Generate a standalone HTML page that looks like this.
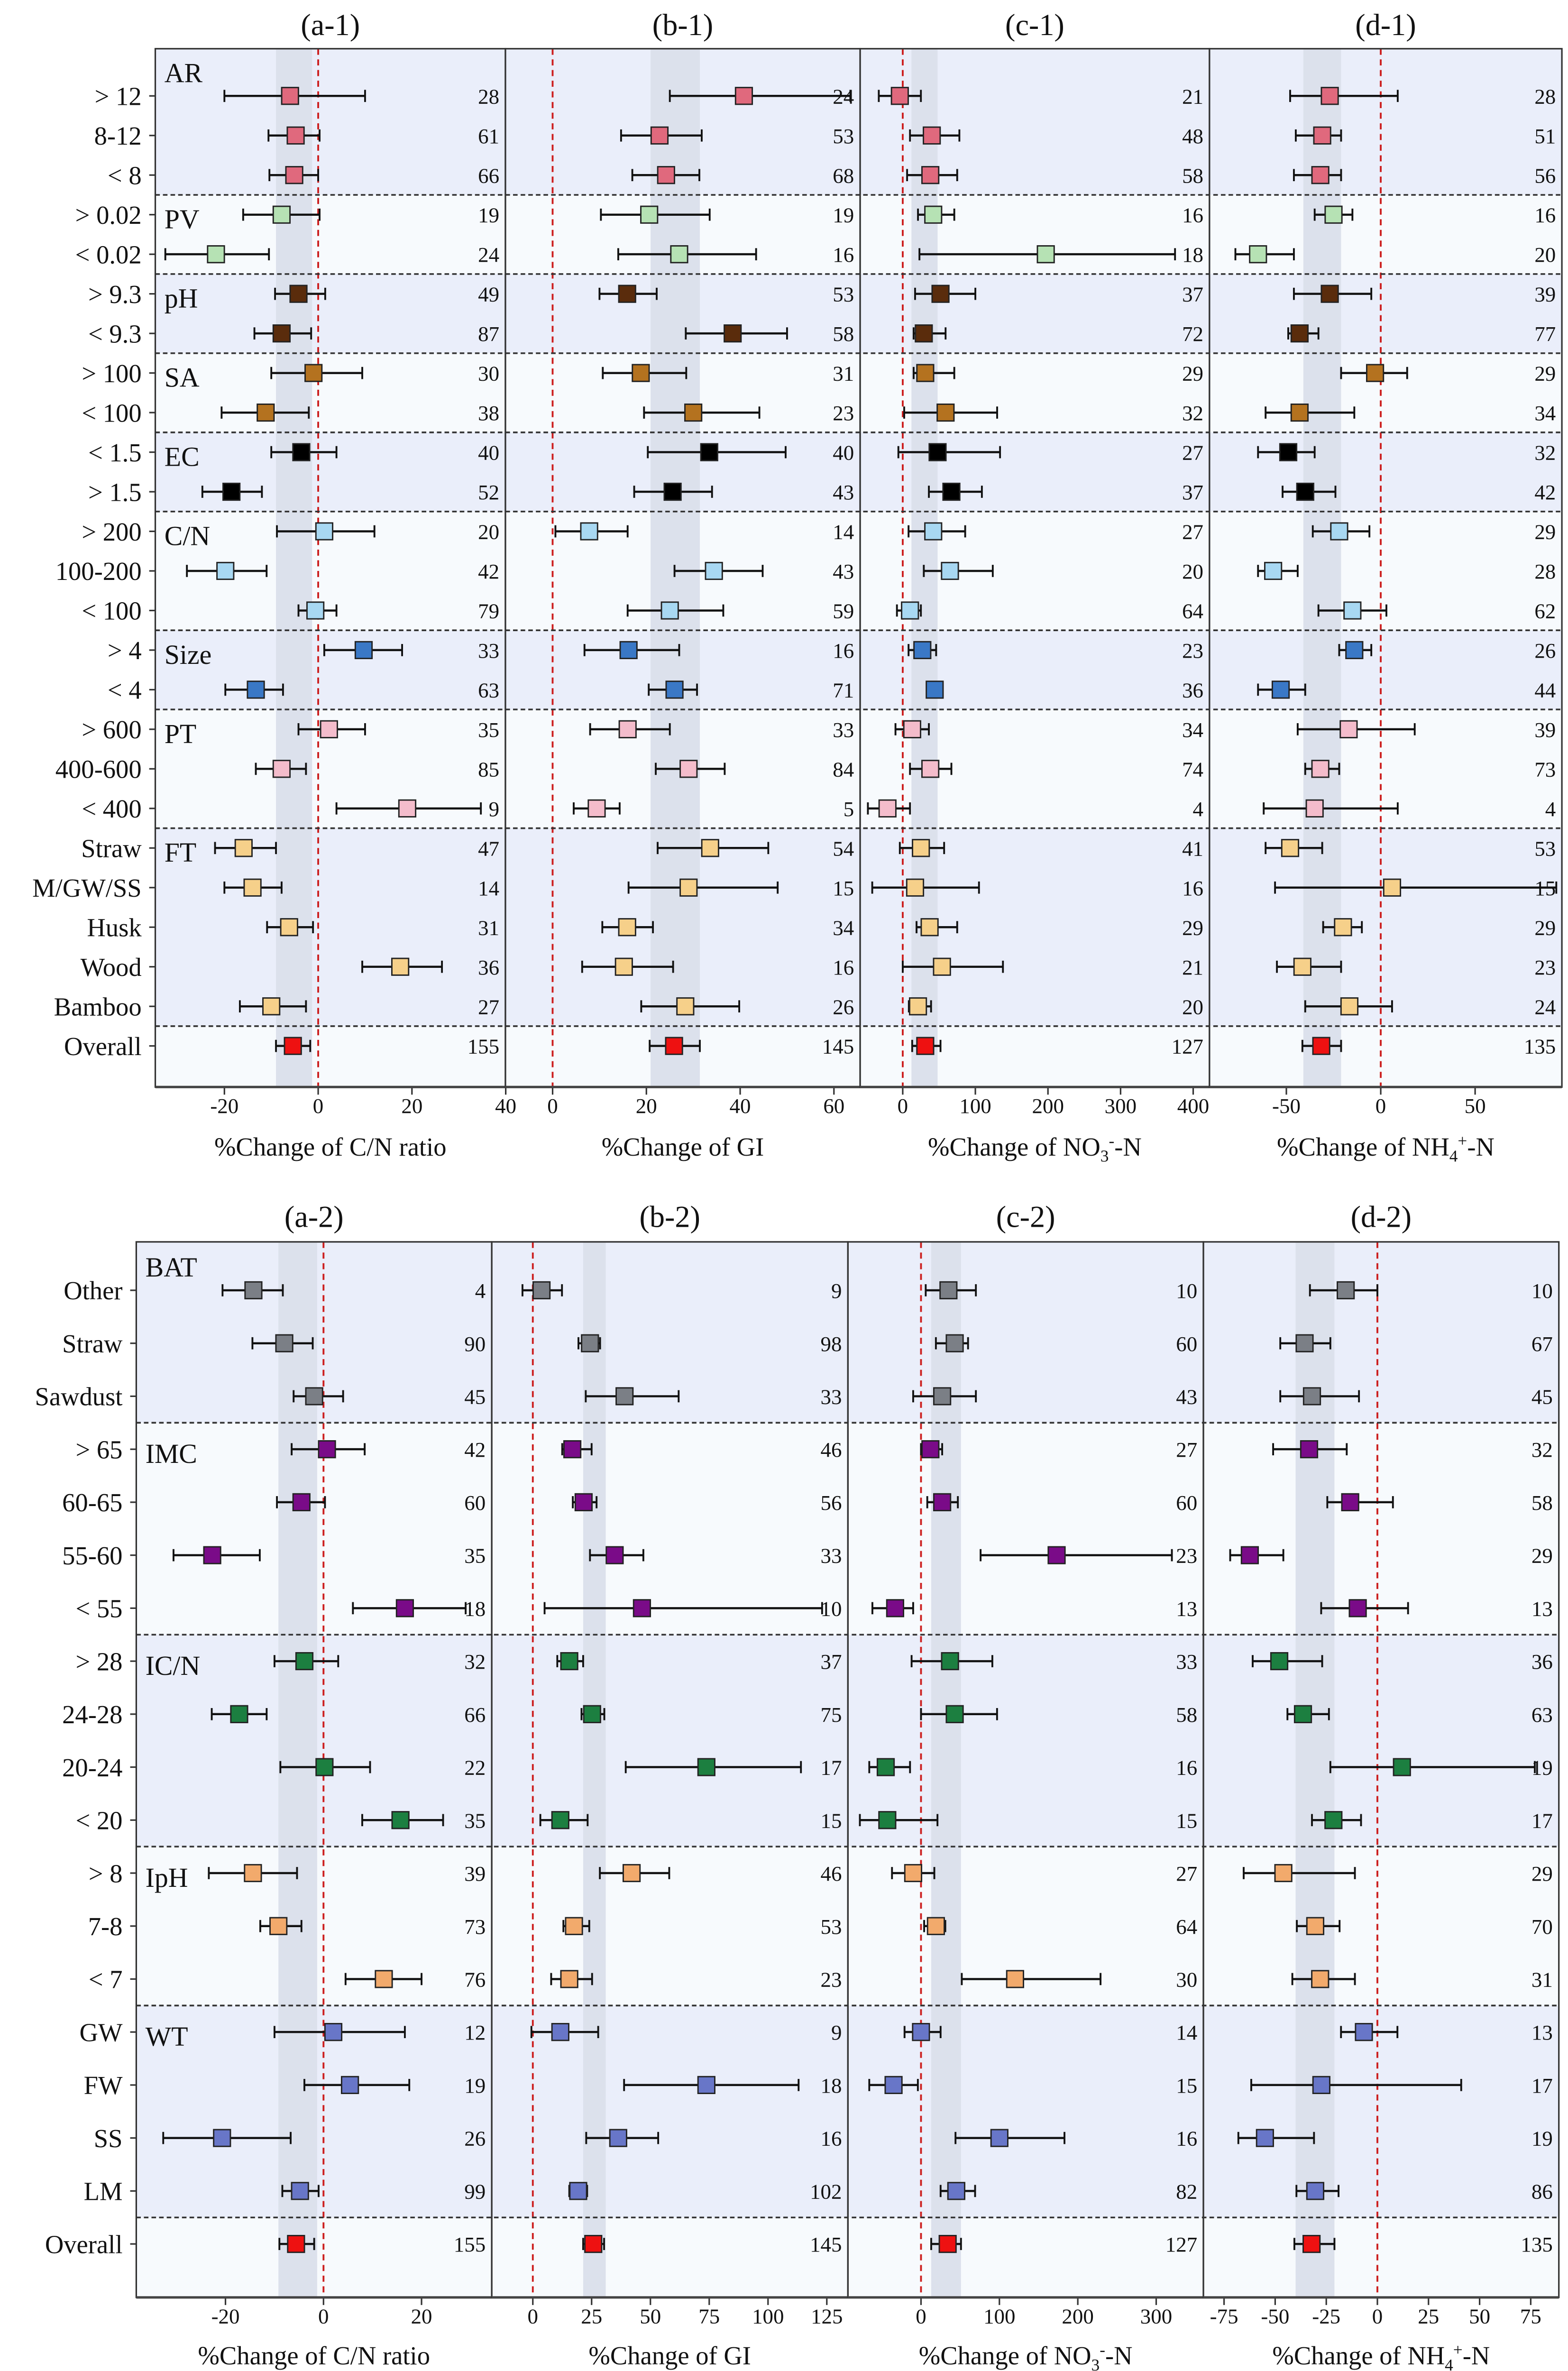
<!DOCTYPE html>
<html><head><meta charset="utf-8"><style>
html,body{margin:0;padding:0;background:#fff;overflow:hidden;width:3307px;height:5031px}
svg{display:block}
text{font-family:"Liberation Serif","Times New Roman",serif;fill:#111}
</style></head><body>
<svg id="chart" xmlns="http://www.w3.org/2000/svg" width="3307" height="5031" viewBox="0 0 1030 1567" overflow="hidden"></svg>
<script>
// ---------- TOP FIGURE DATA ----------
const topRows = ["> 12","8-12","< 8","> 0.02","< 0.02","> 9.3","< 9.3","> 100","< 100","< 1.5","> 1.5","> 200","100-200","< 100","> 4","< 4","> 600","400-600","< 400","Straw","M/GW/SS","Husk","Wood","Bamboo","Overall"];
const topGroupNames = ["AR","PV","pH","SA","EC","C/N","Size","PT","FT","Overall"];
const topGroupSizes = [3,2,2,2,2,3,2,3,5,1];
const a1Mean = [-6,-4.8,-5.1,-7.8,-21.8,-4.2,-7.8,-1,-11.2,-3.6,-18.5,1.3,-19.8,-0.6,9.7,-13.3,2.3,-7.8,19,-15.9,-14,-6.2,17.5,-10,-5.4];
const a1Lo = [-20,-10.6,-10.4,-16,-32.6,-9.2,-13.6,-10,-20.6,-10,-24.7,-8.8,-28,-4.2,1.3,-19.8,-4.2,-13.3,3.9,-22,-20,-10.9,9.4,-16.7,-9];
const a1Hi = [10,0.3,0,0.3,-10.5,1.5,-1.5,9.4,-2,3.9,-12,12,-11,3.9,17.9,-7.5,10,-2.6,34.7,-9,-7.8,-1.1,26.4,-2.6,-1.7];
const a1N = [28,61,66,19,24,49,87,30,38,40,52,20,42,79,33,63,35,85,9,47,14,31,36,27,155];
const b1Mean = [40.8,22.8,24.2,20.6,27,15.9,38.4,18.8,30,33.4,25.6,7.8,34.4,25,16.2,26,16,29,9.4,33.6,29,15.9,15.2,28.3,25.9];
const b1Lo = [25,14.6,17,10.3,14,10,28.4,10.7,19.5,20.3,17.4,0.6,26,16,6.8,20.5,8,22,4.5,22.4,16.2,10.6,6.3,18.9,20.7];
const b1Hi = [63.5,31.8,31.3,33.5,43.4,22.2,50,28.5,44.1,49.7,34,16,44.8,36.4,27,30.8,25,36.7,14.3,46,48,21.4,25.7,39.8,31.4];
const b1N = [24,53,68,19,16,53,58,31,23,40,43,14,43,59,16,71,33,84,5,54,15,34,16,26,145];
const c1Mean = [-4,40,38,42,197,52,29,31,59,48,67,42,65,10,27,44,13,38,-21,25,17,37,54,21,31];
const c1Lo = [-33,10,6,21,23,17,15,15,2,-6,36,8,29,-8,8,34,-10,10,-48,-4,-42,19,0,8.4,13];
const c1Hi = [25,78,75,71,375,100,59,71,130,134,109,86,124,25,46,55,36,67,10,57,105,75,138,39,52];
const c1N = [21,48,58,16,18,37,72,29,32,27,37,27,20,64,23,36,34,74,4,41,16,29,21,20,127];
const d1Mean = [-27,-31,-32,-25,-65,-27,-43,-3,-43,-49,-40,-22,-57,-15,-14,-53,-17,-32,-35,-48,6,-20,-41.5,-16.6,-31.5];
const d1Lo = [-48,-45,-46,-35,-77,-46,-49,-21,-61,-65,-52,-36,-65,-33,-22,-65,-44,-40,-62,-61,-56,-30.5,-55,-40,-41.5];
const d1Hi = [9,-21,-21,-15,-46,-5,-33,14,-14,-35,-24,-6,-44,3,-5,-40,18,-22,9,-31,93,-10,-21,6,-21];
const d1N = [28,51,56,16,20,39,77,29,34,32,42,29,28,62,26,44,39,73,4,53,15,29,23,24,135];
const topBand = [[-9,-1.3],[20.9,31.4],[12,48],[-41,-21]];
const topTicks = [[-20,0,20,40],[0,20,40,60],[0,100,200,300,400],[-50,0,50]];

// ---------- BOTTOM FIGURE DATA ----------
const botRows = ["Other","Straw","Sawdust","> 65","60-65","55-60","< 55","> 28","24-28","20-24","< 20","> 8","7-8","< 7","GW","FW","SS","LM","Overall"];
const botGroupNames = ["BAT","IMC","IC/N","IpH","WT","Overall"];
const botGroupSizes = [3,4,4,3,4,1];
const a2Mean = [-14.3,-8,-1.9,0.7,-4.5,-22.7,16.6,-3.9,-17.2,0.2,15.7,-14.4,-9.2,12.3,2,5.4,-20.7,-4.8,-5.6];
const a2Lo = [-20.6,-14.5,-6.1,-6.5,-9.5,-30.6,6,-10,-22.8,-8.8,7.9,-23.4,-12.9,4.5,-10,-3.9,-32.7,-8.4,-9];
const a2Hi = [-8.3,-2.2,4,8.4,0.3,-13,29,3,-11.6,9.5,24.4,-5.4,-4.5,20,16.6,17.5,-6.7,-1,-1.9];
const a2N = [4,90,45,42,60,35,18,32,66,22,35,39,73,76,12,19,26,99,155];
const b2Mean = [3.7,24.3,39,16.8,21.6,34.8,46.4,15.5,25.2,73.8,11.7,42,17.5,15.5,11.7,73.8,36.3,19.3,25.7];
const b2Lo = [-4.4,19.4,22.5,12.5,17,24.3,5,10.4,20.7,39.5,3.2,28.5,13,7.8,-0.6,38.8,22.7,15.5,21.4];
const b2Hi = [12.4,28.6,62,25,27.1,47,123,21.4,30.4,114,23.3,58,24,25.2,27.8,113,53.3,23.1,30.3];
const b2N = [9,98,33,46,56,33,10,37,75,17,15,46,53,23,9,18,16,102,145];
const c2Mean = [35,43,27,12,27,173,-33,37,43,-45,-43,-10,19,120,0,-35,100,45,34];
const c2Lo = [6,19,-10,0,8,76,-62,-12,0,-66,-78,-37,4,52,-21,-66,44,25,13];
const c2Hi = [70,60,70,27,47,320,-10,91,97,-14,21,17,31,229,25,-4,183,69,51];
const c2N = [10,60,43,27,60,23,13,33,58,16,15,27,64,30,14,15,16,82,127];
const d2Mean = [-15.5,-35.6,-32,-33.4,-13.3,-62.4,-9.6,-48,-36.4,12,-21.5,-46,-30.4,-28,-6.6,-27.4,-55,-30.4,-32.2];
const d2Lo = [-33,-47.5,-47.5,-51,-24.5,-72,-27.5,-61,-44,-23,-32,-65.4,-39.4,-41.6,-17.8,-61.7,-68,-39.6,-40.6];
const d2Hi = [0,-23,-9,-15,7.6,-46,15,-27,-23.7,77,-8,-11,-18.5,-11,9.8,41,-31,-19,-21];
const d2N = [10,67,45,32,58,29,13,36,63,19,17,29,70,31,13,17,19,86,135];
const botBand = [[-9.2,-1.3],[21.4,31],[13,51],[-40,-21]];
const botTicks = [[-20,0,20],[0,25,50,75,100,125],[0,100,200,300],[-75,-50,-25,0,25,50,75]];

// ---------- STYLES ----------
const topColors = ["#e0697d","#b6e2b4","#5a2c0c","#b4721f","#000000","#a8d8f2","#3a78c6","#f4bccb","#f6d08a","#ee1111"];
const botColors = ["#7b7f86","#7a0b88","#1c7f40","#f2aa6c","#6876c8","#ee1111"];
const NS = "http://www.w3.org/2000/svg";
const svg = document.getElementById("chart");
function mk(tag, attrs, parent){ const e=document.createElementNS(NS,tag); for(const k in attrs) e.setAttribute(k,attrs[k]); (parent||svg).appendChild(e); return e; }

function drawFigure(cfg){
  const g = mk("g",{});
  
  
  const rowY = i => cfg.y0 + i*cfg.dy;
  const bounds=[]; let idx=0;
  cfg.groupSizes.forEach((n,gi)=>{
    const top = gi===0 ? cfg.top : (rowY(idx-1)+rowY(idx))/2;
    const bot = gi===cfg.groupSizes.length-1 ? cfg.bottom : (rowY(idx+n-1)+rowY(idx+n))/2;
    bounds.push([top,bot,idx,n]); idx+=n;
  });
  const L = cfg.px[0][0], R = cfg.px[3][1];
  bounds.forEach((b,gi)=>{
    const r = mk("rect",{x:L,y:b[0],width:R-L,height:b[1]-b[0],fill: gi%2===0?"#eaeefa":"#f7fafd"},g);
    
    
  });
  cfg.panels.forEach((p,pi)=>{
    const [x0,x1]=cfg.px[pi];
    const xs = v => p.zero + p.k*v;
    const pg = mk("g",{},g);
    
    
    const band = cfg.bands[pi];
    const br = mk("rect",{x:xs(band[0]),y:cfg.top,width:xs(band[1])-xs(band[0]),height:cfg.bottom-cfg.top,fill:"#dce1ec"},pg);
    
    
    const zl = mk("line",{x1:xs(0),x2:xs(0),y1:cfg.top,y2:cfg.bottom,stroke:"#cc1f1f","stroke-width":1.2,"stroke-dasharray":"4 3"},pg);
    
    
    const t = mk("text",{x:(x0+x1)/2,y:cfg.titleY,"text-anchor":"middle","font-size":20},pg);
    t.textContent = "("+p.id+")";
    
    
    cfg.ticks[pi].forEach(v=>{
      const tl = mk("line",{x1:xs(v),x2:xs(v),y1:cfg.bottom,y2:cfg.bottom+5,stroke:"#333","stroke-width":1},pg);
      
      
      const tt = mk("text",{x:xs(v),y:cfg.tickY,"text-anchor":"middle","font-size":14},pg);
      tt.textContent = v;
      
      
    });
    const at = mk("text",{x:(x0+x1)/2,y:cfg.axisY,"text-anchor":"middle","font-size":17},pg);
    
    
    at.innerHTML = cfg.axisTitles[pi];
    bounds.forEach((b,gi)=>{
      for(let j=0;j<b[3];j++){
        const i=b[2]+j, y=rowY(i);
        const col = cfg.colors[gi];
        const eb = mk("line",{x1:xs(p.lo[i]),x2:xs(p.hi[i]),y1:y,y2:y,stroke:"#111","stroke-width":1.4},pg);
        
        
        [p.lo[i],p.hi[i]].forEach(v=>{
          const c = mk("line",{x1:xs(v),x2:xs(v),y1:y-4,y2:y+4,stroke:"#111","stroke-width":1.2},pg);
          
          
        });
        const m = mk("rect",{x:xs(p.mean[i])-5.5,y:y-5.5,width:11,height:11,fill:col,stroke:"#222","stroke-width":0.9},pg);
        
        
        const n = mk("text",{x:x1-4,y:y+5,"text-anchor":"end","font-size":14},pg);
        n.textContent = p.n[i];
        
        
      }
    });
    const fr = mk("rect",{x:x0,y:cfg.top,width:x1-x0,height:cfg.bottom-cfg.top,fill:"none",stroke:"#333","stroke-width":1},pg);
    
    
    const ax = mk("line",{x1:x0,x2:x1,y1:cfg.bottom,y2:cfg.bottom,stroke:"#444","stroke-width":1.6},pg);
    
    
  });
  bounds.slice(1).forEach(b=>{
    const s = mk("line",{x1:L,x2:R,y1:b[0],y2:b[0],stroke:"#333","stroke-width":1.1,"stroke-dasharray":"3 2"},g);
    
    
  });
  bounds.forEach((b,gi)=>{
    if(cfg.groupNames[gi]==="Overall") return;
    const y = gi===0 ? rowY(b[2])-9 : rowY(b[2])+9;
    const gl = mk("text",{x:L+6,y:y,"font-size":18},g);
    gl.textContent = cfg.groupNames[gi];
    
    
  });
  cfg.rows.forEach((r,i)=>{
    const y=rowY(i);
    const tk = mk("line",{x1:L-4,x2:L,y1:y,y2:y,stroke:"#333","stroke-width":1},g);
    
    
    const rl = mk("text",{x:L-9,y:y+6,"text-anchor":"end","font-size":17},g);
    rl.textContent = r;
    
    
  });
}

const axisT = ["%Change of C/N ratio","%Change of GI",
  '%Change of NO<tspan font-size="11" dy="4">3</tspan><tspan font-size="11" dy="-10">-</tspan><tspan dy="6">-N</tspan>',
  '%Change of NH<tspan font-size="11" dy="4">4</tspan><tspan font-size="11" dy="-10">+</tspan><tspan dy="6">-N</tspan>'];

drawFigure({name:"top-figure", rows:topRows, groupNames:topGroupNames, groupSizes:topGroupSizes, colors:topColors,
  y0:63, dy:26.0, top:32, bottom:714, titleY:23, tickY:731, axisY:759,
  px:[[102,332],[332,565],[565,794.5],[794.5,1026]], bands:topBand, ticks:topTicks, axisTitles:axisT,
  panels:[
    {id:"a-1",zero:209,k:3.08,mean:a1Mean,lo:a1Lo,hi:a1Hi,n:a1N},
    {id:"b-1",zero:363,k:3.08,mean:b1Mean,lo:b1Lo,hi:b1Hi,n:b1N},
    {id:"c-1",zero:593,k:0.477,mean:c1Mean,lo:c1Lo,hi:c1Hi,n:c1N},
    {id:"d-1",zero:907,k:1.24,mean:d1Mean,lo:d1Lo,hi:d1Hi,n:d1N}]});

drawFigure({name:"bottom-figure", rows:botRows, groupNames:botGroupNames, groupSizes:botGroupSizes, colors:botColors,
  y0:847.5, dy:34.8, top:815.7, bottom:1509, titleY:806, tickY:1526, axisY:1553,
  px:[[89.5,323],[323,557],[557,790.5],[790.5,1024]], bands:botBand, ticks:botTicks, axisTitles:axisT,
  panels:[
    {id:"a-2",zero:212.5,k:3.22,mean:a2Mean,lo:a2Lo,hi:a2Hi,n:a2N},
    {id:"b-2",zero:350,k:1.545,mean:b2Mean,lo:b2Lo,hi:b2Hi,n:b2N},
    {id:"c-2",zero:605,k:0.515,mean:c2Mean,lo:c2Lo,hi:c2Hi,n:c2N},
    {id:"d-2",zero:904.8,k:1.343,mean:d2Mean,lo:d2Lo,hi:d2Hi,n:d2N}]});
</script>
</body></html>
